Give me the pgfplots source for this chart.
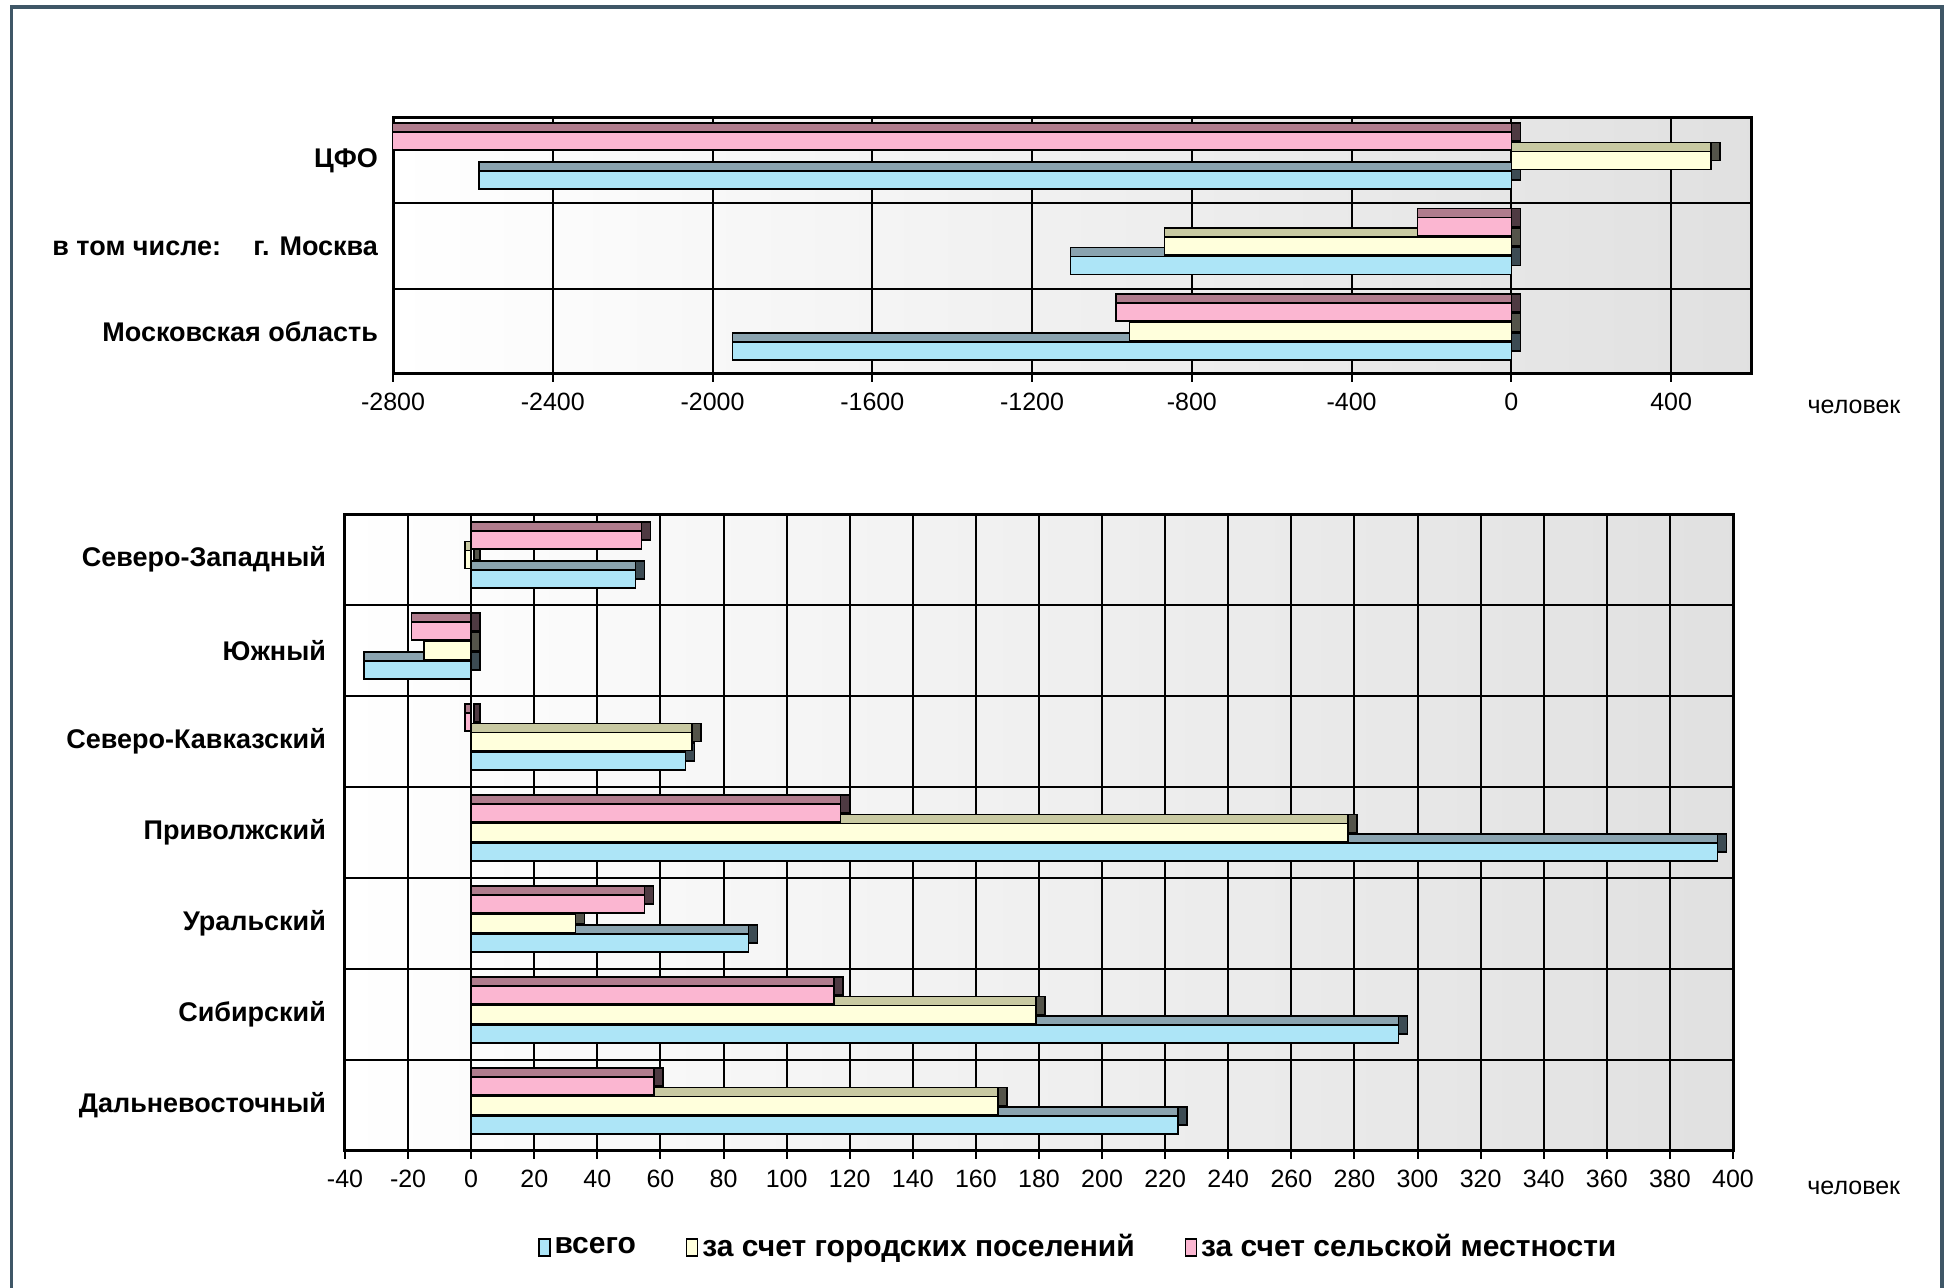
\documentclass[border=0pt]{standalone}
\usepackage{fontspec}
\setmainfont{Liberation Sans}
\usepackage{pgfplots}
\usepackage{pgfplotstable}
\pgfplotsset{compat=1.18}

\definecolor{frameC}{HTML}{3F5767}
\definecolor{bluF}{HTML}{ADE5F7}
\definecolor{bluT}{HTML}{8AA3AF}
\definecolor{bluS}{HTML}{3C4B53}
\definecolor{yelF}{HTML}{FFFFDC}
\definecolor{yelT}{HTML}{C8C9A2}
\definecolor{yelS}{HTML}{54544A}
\definecolor{pnkF}{HTML}{FBB6D1}
\definecolor{pnkT}{HTML}{B07C8D}
\definecolor{pnkS}{HTML}{4E3A42}

% values: всего, за счет городских, за счет сельской
\pgfplotstableread{
y all urban rural
0 -1950 -956 -990
1 -1104 -868 -235
2 -2585 500 -3085
}\topdata

\pgfplotstableread{
y all urban rural
0 224 167 58
1 294 179 115
2 88 33 55
3 395 278 117
4 68 70 -2
5 -34 -15 -19
6 52 -2 54
}\lowdata

\pgfplotsset{
  face/.style={draw=black, line width=0.7pt, bar width=9pt},
  sideface/.style={face, forget plot, xshift=4.5pt, yshift=4.5pt},
  topface/.style={face, forget plot, yshift=4.5pt},
  panel/.style={
    scale only axis, xbar, anchor=south west,
    axis line style={line width=1.5pt},
    axis background/.style={left color=white, middle color=white, right color=black!12},
    xmajorgrids, yminorgrids,
    major grid style={black, line width=1pt},
    minor grid style={black, line width=1pt},
    tick align=outside, xtick pos=left, ytick pos=left,
    major tick length=4pt, minor tick length=0pt,
    xtick style={black, line width=1pt},
    ytick style={draw=none},
    /pgf/number format/assume math mode=true,
    /pgf/number format/1000 sep={},
    xticklabel style={font=\fontsize{12.5}{13}\selectfont, yshift=-2pt},
    yticklabel style={font=\bfseries\fontsize{13.5}{14}\selectfont},
    xlabel style={font=\fontsize{12.5}{13}\selectfont, anchor=center},
  },
}

\begin{document}
\begin{tikzpicture}
\useasboundingbox (0,0) rectangle (975.5pt,644pt);

\begin{axis}[panel,
  at={(196.5pt,457pt)}, width=679pt, height=128pt,
  xmin=-2800, xmax=600, ymin=-0.5, ymax=2.5,
  xtick={-2800,-2400,...,400},
  ytick={0,1,2}, minor ytick={0.5,1.5},
  yticklabels={Московская область, {в том числе:\hspace{1.2em}г. Москва}, ЦФО},
  xlabel={человек},
  xlabel style={at={(axis description cs:1.0759,-0.129)}},
]
\addplot[sideface, fill=bluS, bar shift=-9.75pt] table[x=all,y=y]{\topdata};
\addplot[topface, fill=bluT, bar shift=-9.75pt] table[x=all,y=y]{\topdata};
\addplot[face, fill=bluF, bar shift=-9.75pt, forget plot] table[x=all,y=y]{\topdata};
\addplot[sideface, fill=yelS, bar shift=0pt] table[x=urban,y=y]{\topdata};
\addplot[topface, fill=yelT, bar shift=0pt] table[x=urban,y=y]{\topdata};
\addplot[face, fill=yelF, bar shift=0pt, forget plot] table[x=urban,y=y]{\topdata};
\addplot[sideface, fill=pnkS, bar shift=9.75pt] table[x=rural,y=y]{\topdata};
\addplot[topface, fill=pnkT, bar shift=9.75pt] table[x=rural,y=y]{\topdata};
\addplot[face, fill=pnkF, bar shift=9.75pt, forget plot] table[x=rural,y=y]{\topdata};
\end{axis}

\begin{axis}[panel,
  at={(172.5pt,68.5pt)}, width=694pt, height=318.5pt,
  xmin=-40, xmax=400, ymin=-0.5, ymax=6.5,
  xtick={-40,-20,...,400},
  ytick={0,...,6}, minor ytick={0.5,1.5,...,5.5},
  yticklabels={Дальневосточный, Сибирский, Уральский, Приволжский,
    Северо-Кавказский, Южный, Северо-Западный},
  yticklabel style={xshift=-2pt},
  xlabel={человек},
  xlabel style={at={(axis description cs:1.087,-0.058)}},
  legend columns=3,
  legend style={at={(axis description cs:0.529,-0.1507)}, anchor=center,
    draw=none, fill=none, font=\bfseries\fontsize{15}{16}\selectfont,
    inner sep=0pt,
    /tikz/every even column/.append style={column sep=23pt}},
  legend image code/.code={\draw[#1, draw=black, line width=0.7pt] (0pt,-4.5pt) rectangle (5.5pt,4pt);},
]
\addplot[sideface, fill=bluS, bar shift=-9.75pt] table[x=all,y=y]{\lowdata};
\addplot[topface, fill=bluT, bar shift=-9.75pt] table[x=all,y=y]{\lowdata};
\addplot[face, fill=bluF, bar shift=-9.75pt] table[x=all,y=y]{\lowdata};
\addlegendentry{всего\hspace{28pt}}
\addplot[sideface, fill=yelS, bar shift=0pt] table[x=urban,y=y]{\lowdata};
\addplot[topface, fill=yelT, bar shift=0pt] table[x=urban,y=y]{\lowdata};
\addplot[face, fill=yelF, bar shift=0pt] table[x=urban,y=y]{\lowdata};
\addlegendentry{за счет городских поселений}
\addplot[sideface, fill=pnkS, bar shift=9.75pt] table[x=rural,y=y]{\lowdata};
\addplot[topface, fill=pnkT, bar shift=9.75pt] table[x=rural,y=y]{\lowdata};
\addplot[face, fill=pnkF, bar shift=9.75pt] table[x=rural,y=y]{\lowdata};
\addlegendentry{за счет сельской местности}
\end{axis}

\draw[frameC, line width=1.75pt] (5.85pt,0) -- (5.85pt,640.6pt) -- (971pt,640.6pt) -- (971pt,0);
\end{tikzpicture}
\end{document}
